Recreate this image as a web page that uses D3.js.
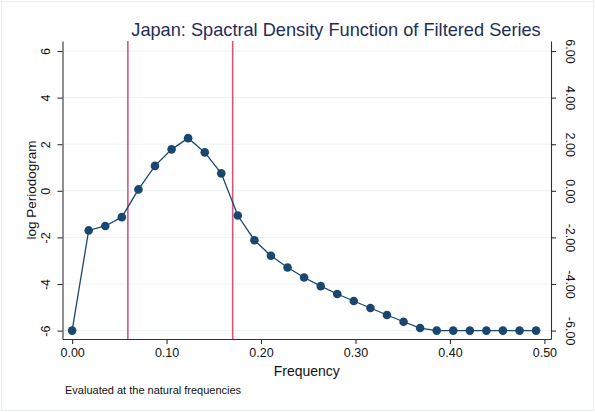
<!DOCTYPE html>
<html>
<head>
<meta charset="utf-8">
<script src="https://cdn.jsdelivr.net/npm/d3@7/dist/d3.min.js"></script>
<style>
  html, body { margin: 0; padding: 0; background: #ffffff; }
  svg { display: block; font-family: "Liberation Sans", Arial, sans-serif; }
</style>
</head>
<body>
<svg id="chart" width="595" height="412"></svg>
<script>
// Natural frequencies (j/57) and the log periodogram at each one
const frequency = [0.0000, 0.0175, 0.0351, 0.0526, 0.0702, 0.0877, 0.1053, 0.1228,
  0.1404, 0.1579, 0.1754, 0.1930, 0.2105, 0.2281, 0.2456, 0.2632, 0.2807, 0.2982,
  0.3158, 0.3333, 0.3509, 0.3684, 0.3860, 0.4035, 0.4211, 0.4386, 0.4561, 0.4737, 0.4912];
const logPeriodogram = [-6.00, -1.70, -1.51, -1.13, 0.06, 1.07, 1.78, 2.26,
  1.65, 0.75, -1.06, -2.12, -2.79, -3.29, -3.72, -4.09, -4.43, -4.73,
  -5.03, -5.33, -5.62, -5.89, -6.00, -6.00, -6.00, -6.00, -6.00, -6.00, -6.00];
// Business-cycle band limits
const bandLimits = [0.059, 0.170];
// Tick values
const xTicks = [0, 0.1, 0.2, 0.3, 0.4, 0.5];
const yTicks = [-6, -4, -2, 0, 2, 4, 6];

const svg = d3.select("#chart");
const W = 595, H = 412;
const plot = { left: 62.5, right: 551, top: 41, bottom: 339 };

// outer frame
svg.append("rect").attr("x", 1.5).attr("y", 1.5).attr("width", W - 3).attr("height", H - 3)
  .attr("fill", "#ffffff").attr("stroke", "#e6eeee").attr("stroke-width", 1);

const x = d3.scaleLinear().domain([-0.0102, 0.507]).range([plot.left, plot.right]);
const y = d3.scaleLinear().domain([-6.36, 6.43]).range([plot.bottom, plot.top]);

// horizontal gridlines
svg.append("g").selectAll("line").data(yTicks).join("line")
  .attr("x1", plot.left).attr("x2", plot.right)
  .attr("y1", d => y(d)).attr("y2", d => y(d))
  .attr("stroke", "#eaf2f3").attr("stroke-width", 1);

// band limits
svg.append("g").selectAll("line").data(bandLimits).join("line")
  .attr("x1", d => x(d)).attr("x2", d => x(d))
  .attr("y1", plot.top).attr("y2", plot.bottom)
  .attr("stroke", "#d5587a").attr("stroke-width", 1.6);

// series line and markers
const pts = frequency.map((f, i) => [f, logPeriodogram[i]]);
svg.append("path").datum(pts)
  .attr("fill", "none").attr("stroke", "#1a476f").attr("stroke-width", 1.3)
  .attr("d", d3.line().x(d => x(d[0])).y(d => y(d[1])));
svg.append("g").selectAll("circle").data(pts).join("circle")
  .attr("cx", d => x(d[0])).attr("cy", d => y(d[1])).attr("r", 4.3)
  .attr("fill", "#1a476f");

const axisColor = "#333333";
function styleAxis(g) {
  g.selectAll(".domain").attr("stroke", axisColor).attr("stroke-width", 1.1);
  g.selectAll(".tick line").attr("stroke", axisColor).attr("stroke-width", 1.1);
  g.selectAll(".tick text").attr("fill", "#111").style("font-size", "12.5px")
    .style("font-family", "'Liberation Sans', Arial, sans-serif");
}

// bottom axis
const gx = svg.append("g").attr("transform", `translate(0,${plot.bottom})`)
  .call(d3.axisBottom(x).tickValues(xTicks).tickFormat(d3.format(".2f")).tickSize(5).tickSizeOuter(0).tickPadding(4));
styleAxis(gx);

// left axis
const gy = svg.append("g").attr("transform", `translate(${plot.left},0)`)
  .call(d3.axisLeft(y).tickValues(yTicks).tickFormat(d => String(d)).tickSize(5).tickSizeOuter(0));
styleAxis(gy);
gy.selectAll(".tick text")
  .attr("transform", "rotate(-90)").attr("x", 0).attr("y", -13).attr("dy", "0")
  .attr("text-anchor", "middle");

// right axis
const gr = svg.append("g").attr("transform", `translate(${plot.right},0)`)
  .call(d3.axisRight(y).tickValues(yTicks).tickFormat(d => d.toFixed(2)).tickSize(5).tickSizeOuter(0));
styleAxis(gr);
gr.selectAll(".tick text")
  .attr("transform", "rotate(90)").attr("x", 0).attr("y", -15).attr("dy", "0")
  .attr("text-anchor", "middle");

// titles
svg.append("text").attr("x", 336).attr("y", 36)
  .attr("text-anchor", "middle").attr("fill", "#1f2d5a")
  .style("font-size", "18.2px").text("Japan: Spactral Density Function of Filtered Series");

svg.append("text").attr("x", (plot.left + plot.right) / 2).attr("y", 376)
  .attr("text-anchor", "middle").attr("fill", "#111")
  .style("font-size", "14px").text("Frequency");

svg.append("text").attr("transform", `translate(36,${(plot.top + plot.bottom) / 2}) rotate(-90)`)
  .attr("text-anchor", "middle").attr("fill", "#111")
  .style("font-size", "13.5px").text("log Periodogram");

svg.append("text").attr("x", 65).attr("y", 394)
  .attr("fill", "#111").style("font-size", "11px")
  .text("Evaluated at the natural frequencies");
</script>
</body>
</html>
